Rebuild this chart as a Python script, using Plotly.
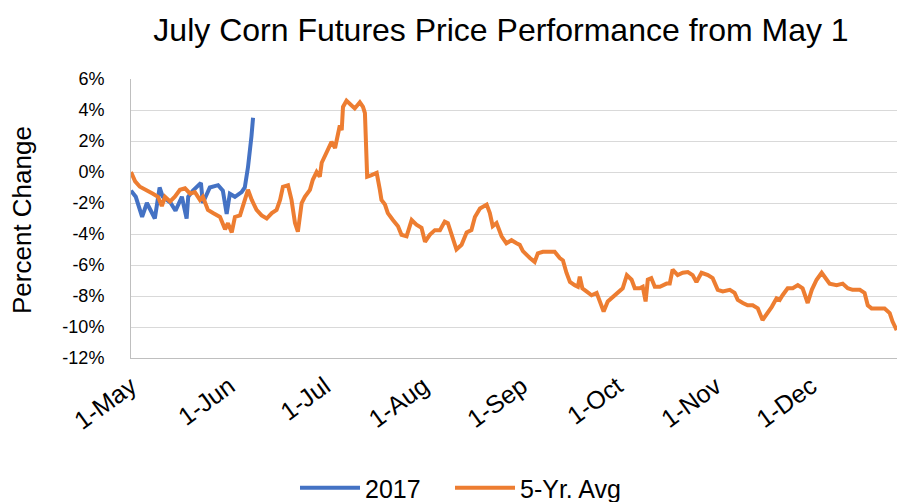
import pandas as pd
import plotly.graph_objects as go

# ---- data (days since 1-May, percent change) ----
start_date = "2017-05-01"

days_2017 = [0, 1.5, 3.5, 5, 7.5, 9, 10, 12.5, 14, 16, 17.5, 18, 19.5, 22, 22.6,
             24.8, 27.4, 28.9, 30.1, 31.1, 32.7, 34.8, 35.8, 36.8, 37.9, 38.4]
vals_2017 = [-1.2, -1.6, -2.9, -2.0, -3.0, -1.0, -1.6, -2.0, -2.5, -1.6, -3.0, -1.6, -1.2,
             -0.7, -2.0, -1.0, -0.85, -1.2, -2.7, -1.4, -1.6, -1.3, -1.0, 0.3, 2.3, 3.5]

days_avg = [0, 1.3, 2.8, 4.9, 6.9, 8.5, 9.7, 10.7, 12.3, 13.8, 15.4, 17.0, 18.6, 20.1, 21.7,
            22.6, 24.2, 25.8, 28.0, 29.6, 30.5, 31.7, 32.7, 34.3, 35.9, 36.8, 38.0, 39.5,
            41.1, 42.7, 44.3, 45.8, 46.9, 47.8, 49.4, 50.5, 51.6, 52.5, 53.7, 54.7, 56.3,
            57.2, 58.4, 59.4, 60.0, 61.5, 63.1, 64.2, 65.1, 65.7, 66.3, 66.7, 67.8, 69.4,
            70.4, 72.0, 73.0, 73.6, 74.1, 74.3, 75.7, 77.3, 78.3, 78.8, 79.9, 80.8, 82.4,
            84.0, 85.1, 86.7, 88.3, 89.8, 91.4, 92.5, 94.0, 95.6, 97.2, 98.7, 99.7, 101.3,
            102.4, 104.0, 105.6, 107.1, 108.2, 109.8, 111.9, 112.9, 113.8, 115.0, 116.6,
            118.1, 119.7, 121.3, 122.3, 123.3, 124.8, 125.5, 127.0, 128.0, 129.6, 131.8,
            133.3, 134.9, 135.9, 137.0, 138.1, 139.6, 140.6, 141.2, 142.0, 143.3, 144.9,
            146.5, 147.5, 148.7, 150.0, 151.6, 153.1, 154.7, 156.0, 157.5, 158.5, 160.1,
            161.0, 161.9, 162.6, 163.7, 164.8, 166.4, 168.5, 169.5, 170.4, 172.0, 173.6,
            175.2, 176.7, 177.9, 179.5, 181.5, 183.0, 184.6, 186.2, 188.4, 189.9, 190.9,
            192.5, 194.0, 195.6, 197.2, 198.7, 200.0, 201.6, 203.1, 204.1, 205.0, 206.6,
            208.2, 209.8, 211.3, 212.9, 214.2, 215.7, 217.3, 218.9, 219.8, 222.0, 223.9,
            225.5, 227.0, 229.3, 230.8, 231.8, 233.0, 234.9, 237.1, 238.7, 239.6, 240.9]
vals_avg = [0.0, -0.6, -0.95, -1.15, -1.4, -1.6, -2.2, -1.6, -1.9, -1.6, -1.15, -1.05, -1.4,
            -1.3, -1.8, -1.6, -2.45, -2.65, -2.9, -3.7, -3.3, -3.9, -2.9, -2.8, -1.8, -1.15,
            -1.8, -2.45, -2.8, -3.0, -2.65, -2.45, -1.8, -0.95, -0.85, -1.8, -3.3, -3.85,
            -2.0, -1.6, -1.15, -0.5, 0.0, -0.3, 0.6, 1.3, 1.95, 1.55, 2.4, 3.0, 2.7, 4.2,
            4.6, 4.3, 4.1, 4.5, 4.2, 3.8, 1.6, -0.3, -0.2, -0.05, -1.15, -1.8, -2.1, -2.65,
            -3.1, -3.5, -4.05, -4.15, -3.1, -3.4, -3.6, -4.5, -4.05, -3.75, -3.75, -3.2,
            -3.3, -4.4, -5.0, -4.7, -3.9, -3.75, -2.9, -2.35, -2.1, -2.65, -3.5, -3.3,
            -4.15, -4.6, -4.4, -4.6, -4.7, -5.1, -5.45, -5.55, -5.8, -5.25, -5.15, -5.15,
            -5.15, -5.55, -5.7, -6.5, -7.1, -7.3, -7.4, -6.75, -7.5, -7.7, -7.95, -7.8,
            -8.35, -9.0, -8.35, -8.05, -7.8, -7.5, -6.65, -6.95, -7.5, -7.5, -7.4, -8.35,
            -6.95, -6.85, -7.4, -7.4, -7.2, -7.2, -6.3, -6.65, -6.5, -6.45, -6.65, -7.1,
            -6.5, -6.65, -6.85, -7.6, -7.7, -7.6, -7.8, -8.25, -8.45, -8.6, -8.6, -8.8,
            -9.55, -9.2, -8.7, -8.15, -8.25, -7.95, -7.5, -7.5, -7.3, -7.5, -8.45, -7.6,
            -6.95, -6.5, -6.95, -7.2, -7.3, -7.2, -7.5, -7.6, -7.6, -7.8, -8.6, -8.8, -8.8,
            -8.8, -9.1, -9.65, -10.2]

tick_dates = ["2017-05-01", "2017-06-01", "2017-07-01", "2017-08-01",
              "2017-09-01", "2017-10-01", "2017-11-01", "2017-12-01"]
tick_labels = ["1-May", "1-Jun", "1-Jul", "1-Aug", "1-Sep", "1-Oct", "1-Nov", "1-Dec"]
y_ticks = [6, 4, 2, 0, -2, -4, -6, -8, -10, -12]
y_labels = [f"{v}%" for v in y_ticks]

series_names = ["2017", "5-Yr. Avg"]
series_colors = ["#4472C4", "#ED7D31"]

# ---- build ----
t0 = pd.Timestamp(start_date)
x_2017 = t0 + pd.to_timedelta(days_2017, unit="D")
x_avg = t0 + pd.to_timedelta(days_avg, unit="D")

FONT = "Liberation Sans, Arial, sans-serif"
W, H = 897, 502

fig = go.Figure()
fig.add_trace(go.Scatter(x=x_2017, y=vals_2017, mode="lines", name=series_names[0],
                         line=dict(color=series_colors[0], width=4), legend="legend"))
fig.add_trace(go.Scatter(x=x_avg, y=vals_avg, mode="lines", name=series_names[1],
                         line=dict(color=series_colors[1], width=4), legend="legend2"))

legend_common = dict(orientation="h", xref="container", yref="container",
                     xanchor="left", y=(H - 488) / H, yanchor="middle",
                     font=dict(size=25, color="#000000"), itemwidth=60,
                     bgcolor="rgba(0,0,0,0)")

fig.update_layout(
    width=W, height=H,
    margin=dict(l=131, r=0, t=79, b=144),
    paper_bgcolor="white", plot_bgcolor="white",
    font=dict(family=FONT, color="#000000", size=18),
    title=dict(text="July Corn Futures Price Performance from May 1",
               x=501 / W, xref="container", xanchor="center",
               y=1 - 30 / H, yref="container", yanchor="middle",
               font=dict(family=FONT, size=32, color="#000000")),
    showlegend=True,
    legend=dict(x=295 / W, **legend_common),
    legend2=dict(x=450 / W, **legend_common),
)

fig.update_xaxes(
    type="date",
    range=[t0, t0 + pd.Timedelta(days=241)],
    tickvals=pd.to_datetime(tick_dates), ticktext=tick_labels,
    tickangle=-36, tickfont=dict(size=25, color="#000000"),
    ticklabelshift=0, ticklabelstandoff=3,
    showgrid=False, showline=True, linecolor="#bfbfbf", linewidth=1,
    ticks="", zeroline=False,
)
fig.update_yaxes(
    range=[-12, 6], tickvals=y_ticks, ticktext=y_labels,
    tickfont=dict(size=18, color="#000000"), ticklabelstandoff=22,
    showgrid=True, gridcolor="#d9d9d9", gridwidth=1,
    showline=True, linecolor="#bfbfbf", linewidth=1,
    zeroline=False, ticks="",
)

fig.add_annotation(text="Percent Change", textangle=-90,
                   xref="paper", yref="paper",
                   x=-(131 - 22) / 766, y=(358 - 220) / 279,
                   xanchor="center", yanchor="middle", showarrow=False,
                   font=dict(family=FONT, size=26, color="#000000"))

fig.write_html("out.html",
               config={"displayModeBar": False},
               post_script="document.body.style.margin='0';"
                           "document.body.style.overflow='hidden';")
